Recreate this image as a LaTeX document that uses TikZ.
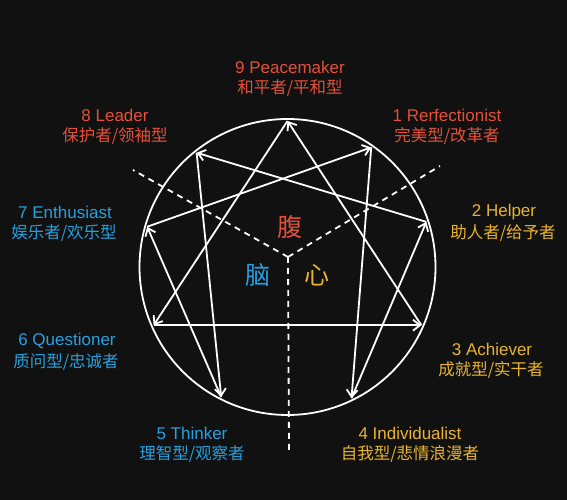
\documentclass[tikz,border=0pt]{standalone}
\usepackage{fontspec}
\setmainfont{Liberation Sans}
\newfontfamily\cjk{Noto Sans CJK SC}
\usetikzlibrary{positioning, arrows.meta, calc}
\definecolor{bgcol}{RGB}{17,17,17}
\definecolor{gutred}{RGB}{228,80,58}
\definecolor{headblue}{RGB}{38,160,222}
\definecolor{heartgold}{RGB}{232,180,46}

\begin{document}
\begin{tikzpicture}[
  x=1pt, y=1pt,
  every node/.style={inner sep=0pt},
  enname/.style={font=\fontsize{17}{17}\selectfont},
  cnname/.style={font=\cjk\fontsize{16.5}{16.5}\selectfont},
  core/.style={font=\cjk\fontsize{25}{25}\selectfont},
  ring/.style={draw=white, line width=1.8pt},
  arrow/.style={-{Straight Barb[length=7pt,width=11pt]}, white, line width=1.8pt},
  divider/.style={white, line width=1.8pt, dash pattern=on 6pt off 5pt}
]

% Background
\fill[bgcol] (0,0) rectangle (567,500);

% Circle and points
\coordinate (c) at (287.5,233);
\draw[ring] (c) circle (148);
\coordinate (p9) at ($(c)+(90:146)$);
\coordinate (p1) at ($(c)+(55:146)$);
\coordinate (p2) at ($(c)+(18:146)$);
\coordinate (p3) at ($(c)+(-23.5:146)$);
\coordinate (p4) at ($(c)+(-64:146)$);
\coordinate (p5) at ($(c)+(243:146)$);
\coordinate (p6) at ($(c)+(203.5:146)$);
\coordinate (p7) at ($(c)+(164:146)$);
\coordinate (p8) at ($(c)+(128.5:146)$);

% Centre dividers
\coordinate (hub) at (288,243);
\coordinate (gutend) at (133,330);
\coordinate (heartend) at (440,334);
\coordinate (headend) at (289,47);
\draw[divider] (hub) -- (gutend);
\draw[divider] (hub) -- (heartend);
\draw[divider] (hub) -- (headend);

% Triangle
\draw[arrow] (p9) -- (p6);
\draw[arrow] (p6) -- (p3);
\draw[arrow] (p3) -- (p9);

% Hexad
\draw[arrow] (p1) -- (p4);
\draw[arrow] (p4) -- (p2);
\draw[arrow] (p2) -- (p8);
\draw[arrow] (p8) -- (p5);
\draw[arrow] (p5) -- (p7);
\draw[arrow] (p7) -- (p1);

% Centres
\node[core, text=gutred] (gut) at (290,273) {腹};
\node[core, text=headblue] (head) at (258,225) {脑};
\node[core, text=heartgold] (heart) at (317,225) {心};

% Type labels
\node[enname, text=gutred] (t9) at (290,433) {9 Peacemaker};
\node[cnname, text=gutred] (c9) at (290,412) {和平者/平和型};
\node[enname, text=gutred] (t8) at (115,385) {8 Leader};
\node[cnname, text=gutred] (c8) at (115,364) {保护者/领袖型};
\node[enname, text=gutred] (t1) at (447,385) {1 Rerfectionist};
\node[cnname, text=gutred] (c1) at (447,364) {完美型/改革者};
\node[enname, text=headblue] (t7) at (65,288) {7 Enthusiast};
\node[cnname, text=headblue] (c7) at (64,267) {娱乐者/欢乐型};
\node[enname, text=heartgold] (t2) at (504,288) {2 Helper};
\node[cnname, text=heartgold] (c2) at (503,267) {助人者/给予者};
\node[enname, text=headblue] (t6) at (67,159) {6 Questioner};
\node[cnname, text=headblue] (c6) at (66,138) {质问型/忠诚者};
\node[enname, text=heartgold] (t3) at (492,151) {3 Achiever};
\node[cnname, text=heartgold] (c3) at (491,130) {成就型/实干者};
\node[enname, text=headblue] (t5) at (192,67) {5 Thinker};
\node[cnname, text=headblue] (c5) at (192,46) {理智型/观察者};
\node[enname, text=heartgold] (t4) at (410,67) {4 Individualist};
\node[cnname, text=heartgold] (c4) at (410,46) {自我型/悲情浪漫者};

\end{tikzpicture}
\end{document}
